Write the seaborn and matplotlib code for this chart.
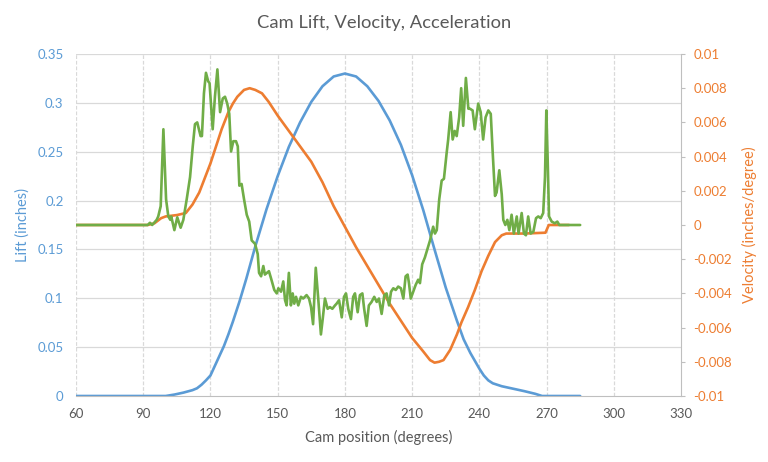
import numpy as np
import pandas as pd
import matplotlib
matplotlib.use("Agg")
import matplotlib.pyplot as plt
import seaborn as sns
from matplotlib.ticker import FuncFormatter

# --- data ---
lift_deg = [60, 80, 100, 104, 108, 112, 114, 116, 118, 120, 122, 124, 126, 128, 130, 133,
            136, 140, 145, 150, 155, 160, 165, 170, 175, 180, 185, 190, 195, 200, 205,
            210, 215, 220, 225, 230, 233, 236, 238, 240, 242, 244, 246, 250, 255, 260,
            265, 268, 285]
lift_val = [0, 0, 0, 0.0015, 0.0035, 0.006, 0.0079, 0.0115, 0.016, 0.021, 0.031, 0.041,
            0.051, 0.063, 0.076, 0.097, 0.12, 0.153, 0.191, 0.225, 0.255, 0.28, 0.301,
            0.317, 0.327, 0.33, 0.327, 0.317, 0.302, 0.282, 0.257, 0.226, 0.19, 0.15,
            0.111, 0.077, 0.058, 0.044, 0.036, 0.028, 0.021, 0.016, 0.013, 0.01, 0.0075,
            0.005, 0.0022, 0, 0]

vel_deg = [60, 80, 92, 95, 98, 100, 105, 109, 112, 115, 120, 125, 128, 130, 132, 135,
           137.5, 140, 143, 146, 150, 155, 160, 165, 170, 175, 180, 185, 190, 195, 200,
           205, 210, 215, 218, 220, 222, 224, 227, 230, 232, 235, 238, 241, 244, 247,
           250, 252, 260, 269.5, 271, 280]
vel_val = [0, 0, 0, 0.0001, 0.0004, 0.0005, 0.00058, 0.0007, 0.0012, 0.0019, 0.0036,
           0.0056, 0.0066, 0.0071, 0.0075, 0.0079, 0.008, 0.0079, 0.0077, 0.0072, 0.0064,
           0.0055, 0.0046, 0.0037, 0.0025, 0.0011, -0.0001, -0.0013, -0.0024, -0.0035,
           -0.0046, -0.0056, -0.0066, -0.0074, -0.0079, -0.00805, -0.008, -0.0079,
           -0.0073, -0.0064, -0.0057, -0.0048, -0.0038, -0.0027, -0.0018, -0.001,
           -0.0006, -0.0005, -0.0005, -0.00045, 0, 0]

acc_deg = [60, 80, 92, 93, 94, 96, 96.7, 97.8, 99.0, 100.2, 101.2, 102.1, 102.5, 103.9,
           105.2, 106.7, 107.9, 109.4, 110.9, 112.1, 113.1, 114.1, 115.6, 116.2, 117.1,
           118.0, 119.0, 119.6, 121.0, 122.0, 123.1, 124.3, 125.5, 126.5, 127.5, 128.4,
           129.2, 130.2, 131.4, 132.2, 132.9, 133.9, 135.0, 136.2, 137.3, 138.4, 139.9,
           141.1, 141.7, 142.6, 143.6, 144.3, 146.1, 147.0, 148.5, 149.6, 150.3, 151.5,
           152.5, 153.3, 154.0, 155.0, 155.9, 156.7, 157.4, 158.2, 159.2, 160.4, 161.4,
           162.9, 164.0, 164.9, 165.8, 167.0, 168.1, 169.3, 170.1, 171.1, 172.3, 173.3,
           174.4, 175.6, 176.3, 177.4, 178.6, 179.6, 180.5, 181.5, 182.7, 183.7, 184.5,
           185.7, 186.7, 187.8, 188.6, 189.7, 190.7, 191.9, 193.1, 194.2, 195.2, 196.4,
           197.6, 198.6, 199.7, 200.6, 201.6, 202.7, 203.8, 205.0, 206.1, 207.1, 208.0,
           208.6, 209.4, 210.5, 211.6, 212.7, 213.5, 214.5, 215.7, 218.0, 219.4, 220.2,
           221.0, 222.1, 223.2, 224.2, 225.4, 226.1, 227.2, 228.1, 229.0, 229.9, 231.0,
           231.9, 232.8, 234.0, 235.1, 235.8, 237.0, 238.0, 239.5, 240.6, 241.7, 242.8,
           244.0, 245.1, 245.9, 247.0, 247.7, 248.9, 250.0, 250.7, 251.6, 252.5, 253.4,
           254.4, 255.4, 256.7, 257.5, 258.9, 259.9, 260.8, 261.8, 262.9, 264.1, 265.3,
           266.3, 267.4, 268.5, 269.3, 269.9, 270.5, 271.1, 272.3, 273.7, 274.8, 275.7,
           285]
acc_val = [0, 0, 0, 0.00013, 0, 0.0003, 0.0005, 0.0011, 0.0056, 0.0015, 0.0005, 0.0003,
           0.0005, -0.0003, 0.00045, -0.00016, 0.0003, 0.0015, 0.0028, 0.0046, 0.0059,
           0.006, 0.0052, 0.0052, 0.0077, 0.0089, 0.0084, 0.0083, 0.0056, 0.0075, 0.0091,
           0.0066, 0.0074, 0.0075, 0.0071, 0.0065, 0.0043, 0.0049, 0.0049, 0.0046,
           0.0023, 0.0024, 0.0015, 0.0006, 0.0002, -0.0009, -0.0011, -0.0017, -0.0028,
           -0.003, -0.0024, -0.0029, -0.0027, -0.0031, -0.0038, -0.004, -0.0037, -0.0039,
           -0.0033, -0.0044, -0.0047, -0.0028, -0.0047, -0.004, -0.0046, -0.0042,
           -0.0047, -0.0042, -0.0043, -0.0041, -0.0043, -0.0048, -0.0058, -0.0025,
           -0.0043, -0.0064, -0.0055, -0.0043, -0.0049, -0.0048, -0.0049, -0.0047,
           -0.0046, -0.0044, -0.0054, -0.0042, -0.004, -0.0049, -0.0055, -0.0042, -0.004,
           -0.0051, -0.0041, -0.004, -0.0049, -0.0059, -0.0047, -0.0045, -0.0042,
           -0.0045, -0.0043, -0.0052, -0.0041, -0.004, -0.0047, -0.0039, -0.0037,
           -0.0038, -0.0036, -0.0037, -0.0043, -0.003, -0.0029, -0.0034, -0.0043,
           -0.0039, -0.0035, -0.0032, -0.0034, -0.0023, -0.0019, -0.0009, -0.0001,
           -0.0005, -0.0003, 0.0015, 0.0026, 0.0027, 0.0042, 0.005, 0.0066, 0.005, 0.0055,
           0.0052, 0.0063, 0.008, 0.0058, 0.0086, 0.0068, 0.0068, 0.0067, 0.0056, 0.0071,
           0.0066, 0.005, 0.0063, 0.0067, 0.0065, 0.0044, 0.0017, 0.0019, 0.0032, 0.0018,
           0.0003, 0, 0.0003, -0.0003, 0.0006, -0.0005, 0.0005, -0.0005, 0.0007, -0.0005,
           -0.0006, 0.0005, -0.0005, -0.0004, 0.0004, 0.0005, 0.0004, 0.0007, 0.0028,
           0.0067, 0.0038, 0.0005, 0.0002, 0.0001, 0.0002, 0, 0]

x_ticks = [60, 90, 120, 150, 180, 210, 240, 270, 300, 330]
lift_ticks = [0, 0.05, 0.1, 0.15, 0.2, 0.25, 0.3, 0.35]
vel_ticks = [-0.01, -0.008, -0.006, -0.004, -0.002, 0, 0.002, 0.004, 0.006, 0.008, 0.01]

blue = "#5B9BD5"
orange = "#ED7D31"
green = "#70AD47"
grey = "#595959"

sns.set_style("white")
plt.rcParams["font.family"] = ["Lato", "DejaVu Sans"]
plt.rcParams["axes.unicode_minus"] = False

fig = plt.figure(figsize=(7.68, 4.62), dpi=100)
ax = fig.add_axes([76 / 768, 1 - 396 / 462, 605 / 768, 342 / 462])
ax2 = ax.twinx()

sns.lineplot(x=lift_deg, y=lift_val, ax=ax, color=blue, linewidth=1.9)
sns.lineplot(x=vel_deg, y=vel_val, ax=ax2, color=orange, linewidth=1.9)
sns.lineplot(x=acc_deg, y=acc_val, ax=ax2, color=green, linewidth=1.9)

ax.set_xlim(60, 330)
ax.set_ylim(0, 0.35)
ax2.set_ylim(-0.01, 0.01)
ax.set_xticks(x_ticks)
ax.set_yticks(lift_ticks)
ax2.set_yticks(vel_ticks)

fmt = FuncFormatter(lambda v, p: "0" if abs(v) < 1e-12 else f"{v:g}")
ax.yaxis.set_major_formatter(fmt)
ax2.yaxis.set_major_formatter(fmt)

# grid lines like the spreadsheet
for y in lift_ticks[1:]:
    ax.axhline(y, color="#D9D9D9", linewidth=0.9, zorder=0)
for x in x_ticks[:-1]:
    ax.axvline(x, color="#D9D9D9", linewidth=0.9, linestyle=(0, (3, 1.5)), zorder=0)

for a in (ax, ax2):
    for s in a.spines.values():
        s.set_visible(False)
ax.spines["bottom"].set_visible(True)
ax.spines["bottom"].set_color("#BFBFBF")
ax2.spines["right"].set_visible(True)
ax2.spines["right"].set_color("#BFBFBF")

ax.tick_params(axis="x", length=0, pad=9, labelsize=9.5, labelcolor=grey)
ax.tick_params(axis="y", length=0, pad=9, labelsize=9.5, labelcolor=blue)
ax2.tick_params(axis="y", length=3, color="#BFBFBF", pad=6, labelsize=9.5, labelcolor=orange)

ax.set_xlabel("Cam position (degrees)", fontsize=10.5, color=grey, labelpad=7)
ax.set_ylabel("Lift (inches)", fontsize=10.5, color=blue)
ax2.set_ylabel("Velocity (inches/degree)", fontsize=10.5, color=orange)
ax.yaxis.set_label_coords(-0.076, 0.5)
ax2.yaxis.set_label_coords(1.1, 0.5)
fig.suptitle("Cam Lift, Velocity, Acceleration", fontsize=13.2, color=grey, y=0.968)

fig.savefig("out.png", dpi=100)
